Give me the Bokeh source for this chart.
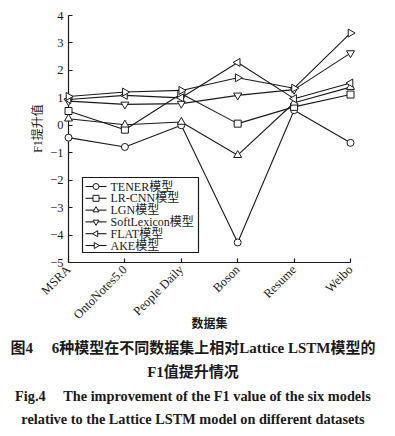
import math
from bokeh.plotting import figure
from bokeh.models import Range1d, FixedTicker, ColumnDataSource, BoxAnnotation
from bokeh.core.properties import value
from bokeh.embed import file_html
from bokeh.resources import INLINE

datasets = ["MSRA", "OntoNotes5.0", "People Daily", "Boson", "Resume", "Weibo"]
tener = [-0.45, -0.79, 0.00, -4.27, 0.55, -0.64]
lrcnn = [0.52, -0.16, 1.15, 0.06, 0.67, 1.12]
lgn = [0.24, 0.02, 0.12, -1.09, 0.82, 1.39]
softlex = [0.88, 0.76, 0.79, 1.09, 1.30, 2.63]
flat = [0.94, 1.09, 1.00, 2.29, 0.97, 1.54]
ake = [1.05, 1.21, 1.27, 1.73, 1.35, 3.36]
series_names = ["TENER模型", "LR-CNN模型", "LGN模型", "SoftLexicon模型", "FLAT模型", "AKE模型"]
y_ticks = [-5, -4, -3, -2, -1, 0, 1, 2, 3, 4]
y_label = "F1提升值"
x_label = "数据集"
caption = ["图4\u3000 6种模型在不同数据集上相对Lattice LSTM模型的",
           "F1值提升情况",
           "Fig.4\u2003 The improvement of the F1 value of the six models",
           "relative to the Lattice LSTM model on different datasets"]

SERIF = "'Liberation Serif', 'Noto Sans CJK SC'"
INK = "#1a1a1a"

# layout (pixels)
W, H = 395, 436
B_LEFT, B_RIGHT, B_TOP, B_BOTTOM = 68, 45, 15, 174
FW, FH = W - B_LEFT - B_RIGHT, H - B_TOP - B_BOTTOM
X0, X1, Y0, Y1 = 0, 5, -5, 4

p = figure(width=W, height=H, output_backend="svg", toolbar_location=None,
           x_range=Range1d(X0, X1), y_range=Range1d(Y0, Y1),
           min_border_left=B_LEFT, min_border_right=B_RIGHT, min_border_top=B_TOP,
           min_border_bottom=B_BOTTOM)
p.outline_line_color = None
p.xgrid.visible = False
p.ygrid.visible = False
p.background_fill_color = "white"
# pixel coordinate space relative to the frame (for legend / captions)
p.extra_x_ranges = {"px": Range1d(0, FW)}
p.extra_y_ranges = {"px": Range1d(0, FH)}

xs = list(range(len(datasets)))

for ax in (p.xaxis, p.yaxis):
    ax.axis_line_color = INK
    ax.axis_line_width = 1.2
    ax.major_tick_line_color = INK
    ax.major_tick_line_width = 1.2
    ax.major_tick_in = 4
    ax.major_tick_out = 0
    ax.minor_tick_line_color = None
    ax.major_label_text_font = SERIF
    ax.major_label_text_font_size = "12.5px"
    ax.major_label_text_color = INK

p.xaxis.ticker = FixedTicker(ticks=xs)
p.xaxis.major_label_overrides = {i: n for i, n in zip(xs, datasets)}
p.xaxis.major_label_orientation = math.pi / 4
p.xaxis.major_label_standoff = 5

p.yaxis.ticker = FixedTicker(ticks=y_ticks)
p.yaxis.major_label_overrides = {t: str(t).replace("-", "\u2212") for t in y_ticks}
p.yaxis.major_label_standoff = 5

# legend frame (inside the plot frame, drawn on the primary layer)
LEG_L, LEG_R, LEG_B, LEG_T = 14, 130, 10, 85
ROW_TOP, ROW_STEP = 76, 11.8
GX0, GX1, TX = 17, 38, 42

def px_to_x(v):
    return X0 + v * (X1 - X0) / FW

def px_to_y(v):
    return Y0 + v * (Y1 - Y0) / FH

p.line(x=[px_to_x(v) for v in (LEG_L, LEG_R, LEG_R, LEG_L, LEG_L)],
       y=[px_to_y(v) for v in (LEG_B, LEG_B, LEG_T, LEG_T, LEG_B)],
       line_color=INK, line_width=1.1)
p.add_layout(BoxAnnotation(left=px_to_x(LEG_L), right=px_to_x(LEG_R),
                           bottom=px_to_y(LEG_B), top=px_to_y(LEG_T),
                           fill_color=None, line_color=INK, line_width=1.1,
                           line_alpha=1))

series = [tener, lrcnn, lgn, softlex, flat, ake]
markers = ["circle", "square", "triangle", "inverted_triangle", "triangle", "triangle"]
angles = [0, 0, 0, 0, math.pi / 2, -math.pi / 2]
sizes = [7, 7, 8, 8, 8, 8]

for vals, mk, ang, sz in zip(series, markers, angles, sizes):
    p.line(xs, vals, line_color=INK, line_width=1.1, level="overlay")
    p.scatter(xs, vals, marker=mk, angle=ang, size=sz, fill_color="white",
              line_color=INK, line_width=1.0, level="overlay")

rows = [ROW_TOP - i * ROW_STEP for i in range(len(series_names))]
leg = ColumnDataSource(dict(x0=[GX0] * len(rows), x1=[GX1] * len(rows),
                            xm=[(GX0 + GX1) / 2] * len(rows), tx=[TX] * len(rows),
                            y=rows, marker=markers, angle=angles, name=series_names))
p.segment(x0="x0", x1="x1", y0="y", y1="y", source=leg, line_color=INK, line_width=1.1,
          x_range_name="px", y_range_name="px", level="overlay")
p.scatter(x="xm", y="y", marker="marker", angle="angle", size=6, source=leg,
          fill_color="white", line_color=INK, line_width=1.0,
          x_range_name="px", y_range_name="px", level="overlay")
p.text(x="tx", y="y", text="name", source=leg, text_font=value(SERIF),
       text_font_size=value("12px"), text_color=INK, text_baseline="middle",
       x_range_name="px", y_range_name="px", level="overlay")

def add_text(x, y, text, size, bold=False, angle=0.0):
    p.text(x=[x], y=[y], text=[text], angle=angle, text_font=value(SERIF),
           text_font_size=value(size), text_font_style="bold" if bold else "normal",
           text_color=INK, text_align="center", text_baseline="middle",
           x_range_name="px", y_range_name="px", level="overlay")

add_text(-30.5, 134, y_label, "12px", angle=math.pi / 2)
add_text(141, -61, x_label, "12px", bold=True)
add_text(124.5, -85, caption[0], "15px", bold=True)
add_text(124.5, -109, caption[1], "15px", bold=True)
add_text(124.5, -133, caption[2], "14.3px", bold=True)
add_text(124.5, -156, caption[3], "14.3px", bold=True)

open("out.html", "w").write(file_html(p, INLINE))
